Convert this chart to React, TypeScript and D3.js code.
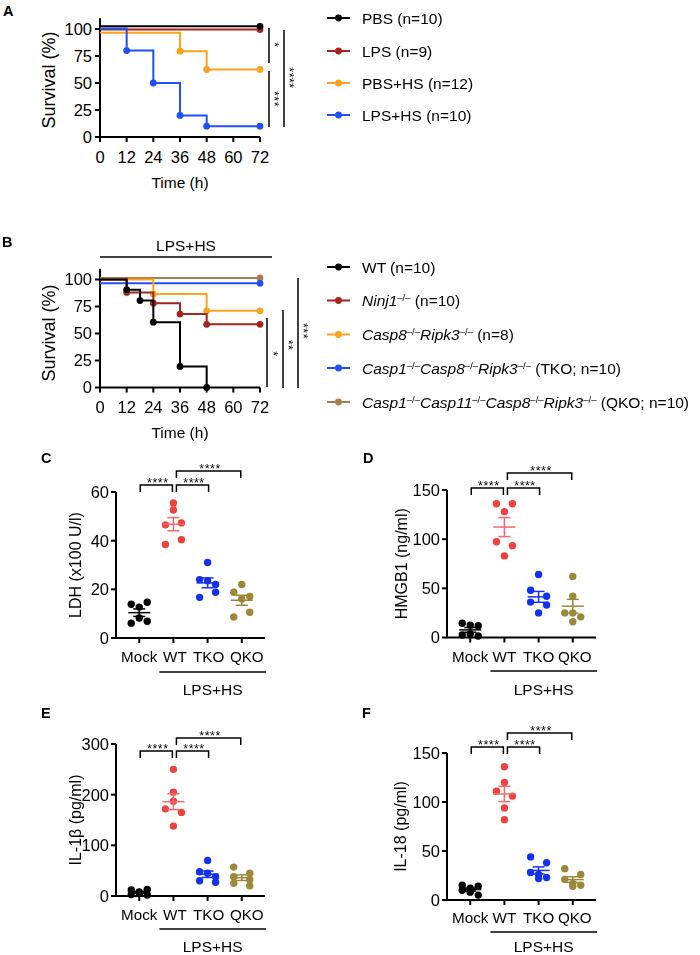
import React from 'react';
import * as d3 from 'd3';

const FONT = '"Liberation Sans", Arial, Helvetica, sans-serif';

// ---------------- Panel A: survival ----------------
const survTicksX = [0, 12, 24, 36, 48, 60, 72];
const survTicksY = [0, 25, 50, 75, 100];

const aPBS_t = [0, 72];
const aPBS_s = [102.5, 102.5];
const aLPS_t = [0, 72];
const aLPS_s = [99.5, 99.5];
const aPBSHS_t = [0, 36, 48, 72];
const aPBSHS_s = [96.5, 79.5, 62.5, 62.5];
const aLPSHS_t = [0, 12, 24, 36, 48, 72];
const aLPSHS_s = [100.5, 80, 50, 20, 10, 10];
const aLegend = ['PBS (n=10)', 'LPS (n=9)', 'PBS+HS (n=12)', 'LPS+HS (n=10)'];
const aSig = ['*', '***', '****'];

// ---------------- Panel B: survival ----------------
const bWT_t = [0, 12, 18, 24, 36, 48];
const bWT_s = [100, 90.5, 80.5, 60.5, 19.5, 0];
const bNinj_t = [0, 12, 24, 36, 48, 72];
const bNinj_s = [100, 88, 78, 68, 58.5, 58.5];
const bC8R3_t = [0, 24, 48, 72];
const bC8R3_s = [100, 86.5, 71, 71];
const bTKO_t = [0, 72];
const bTKO_s = [96.5, 96.5];
const bQKO_t = [0, 72];
const bQKO_s = [101.5, 101.5];
const bTitle = 'LPS+HS';
// legend parts: [text, style] n = normal, i = italic, s = superscript
const bLegend: [string, string][][] = [
  [['WT (n=10)', 'n']],
  [['Ninj1', 'i'], ['–/–', 's'], [' (n=10)', 'n']],
  [['Casp8', 'i'], ['–/–', 's'], ['Ripk3', 'i'], ['–/–', 's'], [' (n=8)', 'n']],
  [['Casp1', 'i'], ['–/–', 's'], ['Casp8', 'i'], ['–/–', 's'], ['Ripk3', 'i'], ['–/–', 's'], [' (TKO; n=10)', 'n']],
  [['Casp1', 'i'], ['–/–', 's'], ['Casp11', 'i'], ['–/–', 's'], ['Casp8', 'i'], ['–/–', 's'], ['Ripk3', 'i'], ['–/–', 's'], [' (QKO; n=10)', 'n']],
];
const bSig = ['*', '**', '***'];

// ---------------- Panels C-F: scatter ----------------
const cats = ['Mock', 'WT', 'TKO', 'QKO'];
const groupLabel = 'LPS+HS';
const starLabel = '****';

const ldhMock = [13.9, 12.7, 14.7, 6.1, 8.2, 6.9];
const ldhWT = [55.5, 52.6, 46.5, 47.3, 38.4, 40.4];
const ldhTKO = [31, 24, 23.5, 22, 16.7, 18.8];
const ldhQKO = [22, 18.8, 16, 17.1, 8.6, 10.6];
const ldhTicks = [0, 20, 40, 60];

const hmgMock = [14.5, 12.5, 12, 2.5, 3.5, 1.5];
const hmgWT = [136, 136, 128, 97.4, 93.4, 83];
const hmgTKO = [64, 48, 42, 36, 33, 25];
const hmgQKO = [62, 42, 25, 25, 16, 21];
const hmgTicks = [0, 50, 100, 150];

const il1Mock = [12, 8, 13, 3, 5, 2];
const il1WT = [250, 205, 187, 172, 165, 138];
const il1TKO = [70, 48, 45, 38, 30, 27];
const il1QKO = [57, 45, 38, 32, 25, 20];
const il1Ticks = [0, 100, 200, 300];

const il18Mock = [15, 12, 14, 10, 8, 5];
const il18WT = [136, 120, 111, 106, 94, 82];
const il18TKO = [44, 38, 28, 26, 22, 23];
const il18QKO = [32, 26, 21, 17, 15, 14];
const il18Ticks = [0, 50, 100, 150];

// ---------------- colors ----------------
const BLACK = '#000000';
const DARKRED = '#a3251d';
const ORANGE = '#fca21c';
const BLUE = '#1f4ff6';
const BROWN = '#a87c50';
const SRED = '#f2403f';
const SRED_ERR = '#f46a68';
const SBLUE = '#1432ee';
const OLIVE = '#9b893b';
const scatterColors = [BLACK, SRED, SBLUE, OLIVE];
const errColors = [BLACK, SRED_ERR, SBLUE, OLIVE];

type Series = { t: number[]; s: number[]; color: string };

function Stars({ x, y, text, rotate, fs = 13 }: { x: number; y: number; text: string; rotate?: boolean; fs?: number }) {
  const off = fs * 0.575;
  if (rotate) {
    return (
      <g opacity={0.99} style={{ willChange: 'transform' }}>
        <text transform={`translate(${x},${y}) rotate(90)`} y={off} textAnchor="middle" fontSize={fs} letterSpacing={0.5} fill="#000">
          {text}
        </text>
      </g>
    );
  }
  return (
    <text x={x} y={y + off} textAnchor="middle" fontSize={fs} letterSpacing={0.5}>
      {text}
    </text>
  );
}

function SurvPlot({
  x0, y0, yTop, series, sig, ylabelCY,
}: {
  x0: number; y0: number; yTop: number; series: Series[];
  sig: { x: number; y1: number; y2: number; label: string; lx: number; ly: number }[];
  ylabelCY: number;
}) {
  const x = d3.scaleLinear().domain([0, 72]).range([x0, x0 + 160]);
  const y = d3.scaleLinear().domain([0, 100]).range([y0, yTop]);
  const line = d3
    .line<[number, number]>()
    .x((d) => x(d[0]))
    .y((d) => y(d[1]))
    .curve(d3.curveStepAfter);
  return (
    <g>
      <path d={`M${x0},${y(110)}V${y0}H${x(72)}`} fill="none" stroke="#000" strokeWidth={2} />
      {survTicksY.map((t) => (
        <g key={'yt' + t}>
          <line x1={x0 - 5} x2={x0} y1={y(t)} y2={y(t)} stroke="#000" strokeWidth={2} />
          <text x={x0 - 8} y={y(t)} dy="0.36em" textAnchor="end" fontSize={16.5}>{t}</text>
        </g>
      ))}
      {survTicksX.map((t) => (
        <g key={'xt' + t}>
          <line x1={x(t)} x2={x(t)} y1={y0} y2={y0 + 5} stroke="#000" strokeWidth={2} />
          <text x={x(t)} y={y0 + 20} dy="0.36em" textAnchor="middle" fontSize={16.5}>{t}</text>
        </g>
      ))}
      <text x={x(36)} y={y0 + 45} dy="0.36em" textAnchor="middle" fontSize={15.5}>Time (h)</text>
      <text transform={`translate(48.5,${ylabelCY}) rotate(-90)`} dy="0.36em" textAnchor="middle" fontSize={18}>
        Survival (%)
      </text>
      {series.map((s, i) => {
        const pts = s.t.map((t, j) => [t, s.s[j]] as [number, number]);
        return (
          <g key={'s' + i}>
            <path d={line(pts) || ''} fill="none" stroke={s.color} strokeWidth={2} />
            {pts
              .filter((p) => p[0] > 0)
              .map((p, j) => (
                <circle key={j} cx={x(p[0])} cy={y(p[1])} r={3.4} fill={s.color} />
              ))}
          </g>
        );
      })}
      {sig.map((g, i) => (
        <g key={'sig' + i}>
          <line x1={g.x} x2={g.x} y1={g.y1} y2={g.y2} stroke="#000" strokeWidth={1.5} />
          <Stars x={g.lx} y={g.ly} text={g.label} rotate fs={12.5} />
        </g>
      ))}
    </g>
  );
}

function LegendRow({ x, y, color, parts }: { x: number; y: number; color: string; parts: [string, string][] }) {
  let prevSup = false;
  return (
    <g>
      <line x1={x} x2={x + 23} y1={y} y2={y} stroke={color} strokeWidth={2} />
      <circle cx={x + 11.5} cy={y} r={3.4} fill={color} />
      <text x={x + 35} y={y} dy="0.36em" fontSize={15.5}>
        {parts.map(([t, st], i) => {
          let dy: number | undefined = undefined;
          if (st === 's' && !prevSup) dy = -5;
          else if (st !== 's' && prevSup) dy = 5;
          prevSup = st === 's';
          return (
            <tspan
              key={i}
              dy={dy}
              fontStyle={st === 'i' ? 'italic' : 'normal'}
              fontSize={st === 's' ? 9.5 : 15.5}
            >
              {t}
            </tspan>
          );
        })}
      </text>
    </g>
  );
}

function swarmOffsets(values: number[], yScale: (v: number) => number, step = 8, thresh = 6.5) {
  const idx = values.map((_, i) => i).sort((a, b) => values[b] - values[a]);
  const groups: number[][] = [];
  let cur: number[] = [];
  let startY = 0;
  for (const i of idx) {
    const py = yScale(values[i]);
    if (cur.length && cur.length < 3 && py - startY < thresh) cur.push(i);
    else {
      if (cur.length) groups.push(cur);
      cur = [i];
      startY = py;
    }
  }
  if (cur.length) groups.push(cur);
  const off = new Array(values.length).fill(0);
  for (const g of groups) {
    const sorted = [...g].sort((a, b) => a - b);
    const n = sorted.length;
    sorted.forEach((i, k) => {
      if (n === 2) off[i] = k === 0 ? -step : step;
      else off[i] = (k - (n - 1) / 2) * step;
    });
  }
  return off;
}

function ScatterPanel({
  letter, letterX, letterY, axisX, y0, yTop, yMax, ticks, data, ylabel, ylabelX, br1, br2,
  labelDx, catDy, lineDy, groupDy,
}: {
  letter: string; letterX: number; letterY: number; axisX: number; y0: number; yTop: number; yMax: number;
  ticks: number[]; data: number[][]; ylabel: string; ylabelX: number; br1: number; br2: number;
  labelDx: number[]; catDy: number; lineDy: number; groupDy: number;
}) {
  const axisEnd = axisX + 149;
  const x = d3.scalePoint<string>().domain(cats).range([axisX, axisEnd]).padding(0.68);
  const y = d3.scaleLinear().domain([0, yMax]).range([y0, yTop]);
  const xm = x('Mock')!, xw = x('WT')!, xt = x('TKO')!, xq = x('QKO')!;
  const brackets = [
    { a: xm + 1, b: xw - 1, top: br1 },
    { a: xw + 3, b: xt + 1, top: br1 },
    { a: xw + 3, b: xq - 1, top: br2 },
  ];
  return (
    <g>
      <text x={letterX} y={letterY} fontSize={14.5} fontWeight="bold">{letter}</text>
      <path d={`M${axisX},${yTop}V${y0}H${axisEnd}`} fill="none" stroke="#000" strokeWidth={2} />
      {ticks.map((t) => (
        <g key={'yt' + t}>
          <line x1={axisX - 5} x2={axisX} y1={y(t)} y2={y(t)} stroke="#000" strokeWidth={2} />
          <text x={axisX - 7} y={y(t)} dy="0.36em" textAnchor="end" fontSize={16.5}>{t}</text>
        </g>
      ))}
      {cats.map((c, i) => (
        <g key={'xt' + c}>
          <line x1={x(c)} x2={x(c)} y1={y0} y2={y0 + 5} stroke="#000" strokeWidth={2} />
          <text x={x(c)! + labelDx[i]} y={y0 + catDy} dy="0.36em" textAnchor="middle" fontSize={15.2}>{c}</text>
        </g>
      ))}
      <line x1={xw - 14} x2={axisEnd + 1} y1={y0 + lineDy} y2={y0 + lineDy} stroke="#000" strokeWidth={1.5} />
      <text x={(xw - 14 + axisEnd + 1) / 2} y={y0 + groupDy} dy="0.36em" textAnchor="middle" fontSize={15.5}>{groupLabel}</text>
      <text transform={`translate(${ylabelX},${(y0 + yTop) / 2}) rotate(-90)`} dy="0.36em" textAnchor="middle" fontSize={16}>
        {ylabel}
      </text>
      {brackets.map((b, i) => (
        <g key={'br' + i}>
          <path d={`M${b.a},${b.top + 7}V${b.top}H${b.b}V${b.top + 7}`} fill="none" stroke="#000" strokeWidth={1.5} />
          <Stars x={(b.a + b.b) / 2 + 1.5} y={b.top - 5.5} text={starLabel} fs={12.5} />
        </g>
      ))}
      {data.map((vals, gi) => {
        const cx = x(cats[gi])!;
        const offs = swarmOffsets(vals, y);
        const m = d3.mean(vals)!;
        const sem = d3.deviation(vals)! / Math.sqrt(vals.length);
        const col = errColors[gi];
        return (
          <g key={'g' + gi}>
            {vals.map((v, i) => (
              <circle key={i} cx={cx + offs[i]} cy={y(v)} r={3.7} fill={scatterColors[gi]} />
            ))}
            <line x1={cx - 11} x2={cx + 11} y1={y(m)} y2={y(m)} stroke={col} strokeWidth={1.5} />
            <line x1={cx} x2={cx} y1={y(m - sem)} y2={y(m + sem)} stroke={col} strokeWidth={1.5} />
            <line x1={cx - 6} x2={cx + 6} y1={y(m - sem)} y2={y(m - sem)} stroke={col} strokeWidth={1.5} />
            <line x1={cx - 6} x2={cx + 6} y1={y(m + sem)} y2={y(m + sem)} stroke={col} strokeWidth={1.5} />
          </g>
        );
      })}
    </g>
  );
}

export default function App() {
  const aSeries: Series[] = [
    { t: aPBSHS_t, s: aPBSHS_s, color: ORANGE },
    { t: aLPS_t, s: aLPS_s, color: DARKRED },
    { t: aPBS_t, s: aPBS_s, color: BLACK },
    { t: aLPSHS_t, s: aLPSHS_s, color: BLUE },
  ];
  const aColors = [BLACK, DARKRED, ORANGE, BLUE];
  const bSeries: Series[] = [
    { t: bQKO_t, s: bQKO_s, color: BROWN },
    { t: bTKO_t, s: bTKO_s, color: BLUE },
    { t: bC8R3_t, s: bC8R3_s, color: ORANGE },
    { t: bNinj_t, s: bNinj_s, color: DARKRED },
    { t: bWT_t, s: bWT_s, color: BLACK },
  ];
  const bColors = [BLACK, DARKRED, ORANGE, BLUE, BROWN];
  const aRows = [18, 51, 83, 115];
  const bRows = [267, 300.5, 334.5, 368, 402];
  const leftDx = [0, 1.5, 1, 5];
  const rightDx = [0, 0, 0, 2];

  return (
    <svg
      width={700}
      height={955}
      viewBox="0 0 700 955"
      style={{ position: 'absolute', left: 0, top: 0, background: '#fff' }}
      fontFamily={FONT}
    >
      <rect x={0} y={0} width={700} height={955} fill="#fff" />
      {/* Panel A */}
      <text x={3} y={16} fontSize={14.5} fontWeight="bold">A</text>
      <SurvPlot
        x0={100}
        y0={137}
        yTop={29}
        series={aSeries}
        ylabelCY={80}
        sig={[
          { x: 269, y1: 28, y2: 63, label: aSig[0], lx: 277, ly: 45 },
          { x: 269, y1: 71, y2: 127, label: aSig[1], lx: 277, ly: 99 },
          { x: 284, y1: 30, y2: 127, label: aSig[2], lx: 292, ly: 78 },
        ]}
      />
      {aLegend.map((l, i) => (
        <LegendRow key={'al' + i} x={327} y={aRows[i]} color={aColors[i]} parts={[[l, 'n']]} />
      ))}

      {/* Panel B */}
      <text x={2} y={247} fontSize={14.5} fontWeight="bold">B</text>
      <text x={186} y={245} dy="0.36em" textAnchor="middle" fontSize={15.5}>{bTitle}</text>
      <line x1={100} x2={272} y1={257} y2={257} stroke="#000" strokeWidth={1.5} />
      <SurvPlot
        x0={100}
        y0={387.5}
        yTop={279.5}
        series={bSeries}
        ylabelCY={333}
        sig={[
          { x: 267, y1: 318, y2: 387, label: bSig[0], lx: 276, ly: 354 },
          { x: 283, y1: 310, y2: 388, label: bSig[1], lx: 291, ly: 345 },
          { x: 298, y1: 278, y2: 388, label: bSig[2], lx: 306, ly: 331 },
        ]}
      />
      {bLegend.map((p, i) => (
        <LegendRow key={'bl' + i} x={327} y={bRows[i]} color={bColors[i]} parts={p} />
      ))}

      {/* Panel C */}
      <ScatterPanel
        letter="C" letterX={41} letterY={463}
        axisX={116} y0={638} yTop={492} yMax={60} ticks={ldhTicks}
        data={[ldhMock, ldhWT, ldhTKO, ldhQKO]}
        ylabel="LDH (x100 U/l)" ylabelX={75} br1={485} br2={471}
        labelDx={leftDx} catDy={19} lineDy={34} groupDy={51}
      />
      {/* Panel D */}
      <ScatterPanel
        letter="D" letterX={363} letterY={463}
        axisX={447} y0={637.5} yTop={490} yMax={150} ticks={hmgTicks}
        data={[hmgMock, hmgWT, hmgTKO, hmgQKO]}
        ylabel="HMGB1 (ng/ml)" ylabelX={401} br1={488} br2={473}
        labelDx={rightDx} catDy={19} lineDy={33.5} groupDy={51.5}
      />
      {/* Panel E */}
      <ScatterPanel
        letter="E" letterX={41} letterY={718}
        axisX={116} y0={896} yTop={744} yMax={300} ticks={il1Ticks}
        data={[il1Mock, il1WT, il1TKO, il1QKO]}
        ylabel="IL-1β (pg/ml)" ylabelX={75} br1={751} br2={738}
        labelDx={leftDx} catDy={19} lineDy={33} groupDy={50}
      />
      {/* Panel F */}
      <ScatterPanel
        letter="F" letterX={362} letterY={718}
        axisX={447} y0={900} yTop={753} yMax={150} ticks={il18Ticks}
        data={[il18Mock, il18WT, il18TKO, il18QKO]}
        ylabel="IL-18 (pg/ml)" ylabelX={400} br1={747} br2={733}
        labelDx={rightDx} catDy={18} lineDy={32} groupDy={46.5}
      />
    </svg>
  );
}
